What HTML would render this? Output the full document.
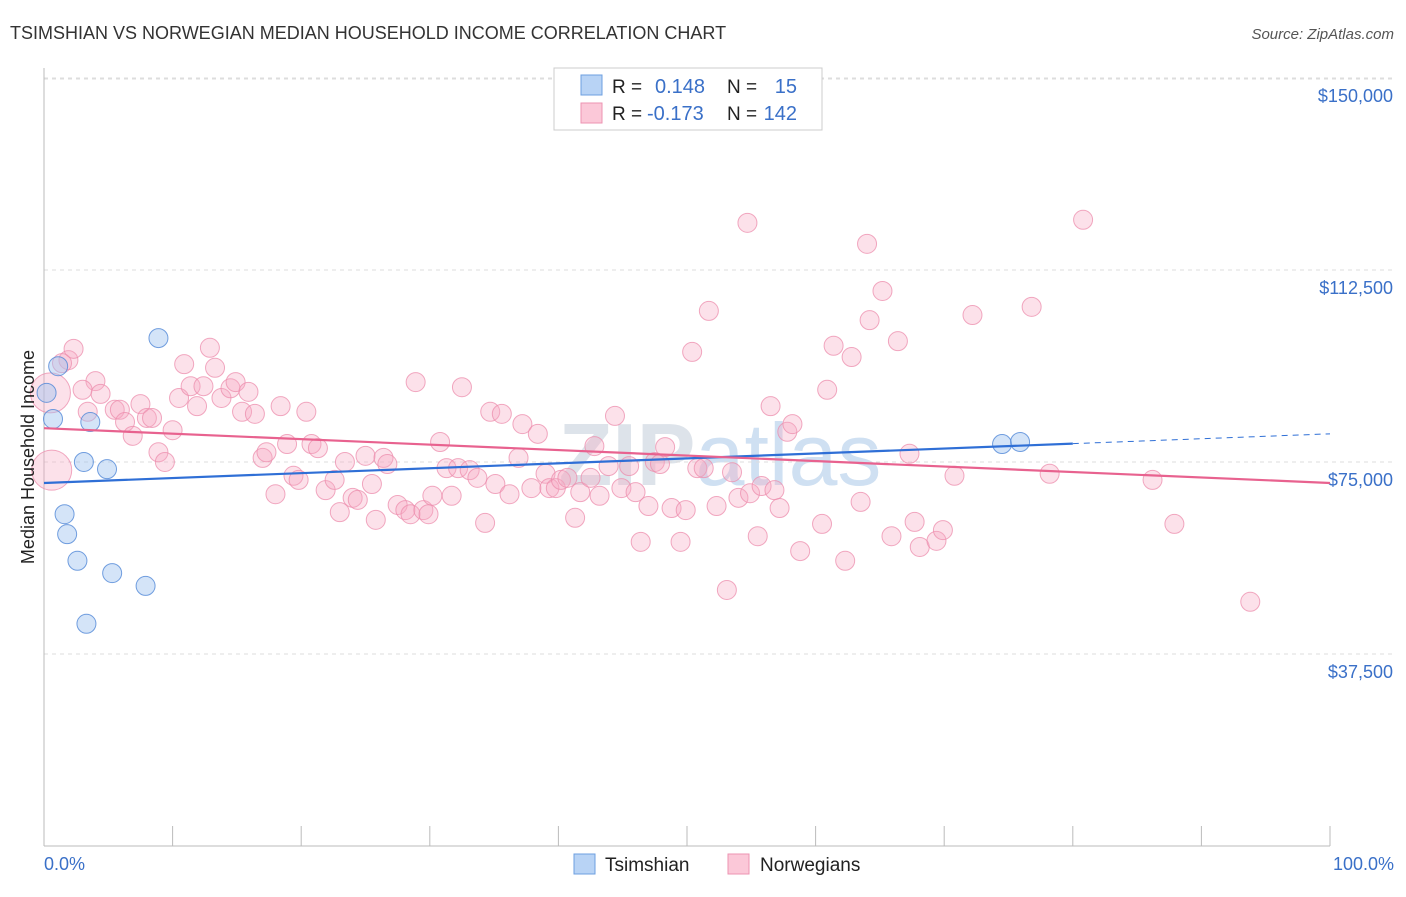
<!DOCTYPE html>
<html><head><meta charset="utf-8"><style>
body{margin:0;background:#fff;font-family:"Liberation Sans",sans-serif}
svg text{font-family:"Liberation Sans",sans-serif}
</style></head><body>
<svg id="chart" width="1406" height="892">
<text x="10" y="39" font-size="18" fill="#333">TSIMSHIAN VS NORWEGIAN MEDIAN HOUSEHOLD INCOME CORRELATION CHART</text>
<text x="1394" y="39" font-size="15" fill="#555" font-style="italic" text-anchor="end">Source: ZipAtlas.com</text>
<text x="720" y="485" font-size="88" fill="#dde3ea" text-anchor="middle" font-weight="bold">ZIP<tspan font-weight="normal" fill="#cfe0f2">atlas</tspan></text>
<g id="grid"></g><g id="axes"></g><g id="pts"></g><g id="trend"></g>
<text transform="translate(34,457) rotate(-90)" font-size="18" fill="#222" text-anchor="middle">Median Household Income</text>
<text x="44" y="870" font-size="18" fill="#3a70c8">0.0%</text>
<text x="1394" y="870" font-size="18" fill="#3a70c8" text-anchor="end">100.0%</text>
<g>
<rect x="554" y="68" width="268" height="62" fill="#fff" stroke="#ccc"/>
<rect x="581" y="75" width="21" height="20" fill="#b8d3f5" stroke="#6d9fe0"/>
<rect x="581" y="103" width="21" height="20" fill="#fbc8d8" stroke="#ec93b2"/>
<text x="612" y="93" font-size="19" fill="#222">R = </text><text x="655" y="93" font-size="20" fill="#3a70c8">0.148</text>
<text x="727" y="93" font-size="19" fill="#222">N = </text><text x="797" y="93" font-size="20" fill="#3a70c8" text-anchor="end">15</text>
<text x="612" y="120" font-size="19" fill="#222">R = </text><text x="647" y="120" font-size="20" fill="#3a70c8">-0.173</text>
<text x="727" y="120" font-size="19" fill="#222">N = </text><text x="797" y="120" font-size="20" fill="#3a70c8" text-anchor="end">142</text>
</g>
<g>
<rect x="574" y="854" width="21" height="20" fill="#b8d3f5" stroke="#6d9fe0"/>
<text x="605" y="871" font-size="19" fill="#222">Tsimshian</text>
<text x="760" y="871" font-size="19" fill="#222">Norwegians</text>
<rect x="728" y="854" width="21" height="20" fill="#fbc8d8" stroke="#ec93b2"/>
</g>
</svg>
<script>
const yTicks=[37500,75000,112500,150000];
const yTickLabels=["$37,500","$75,000","$112,500","$150,000"];
const xTicks=[0,10,20,30,40,50,60,70,80,90,100];
const blueX=[0.2,0.7,1.1,3.6,8.9,3.1,4.9,1.6,1.8,2.6,5.3,7.9,3.3,74.5,75.9];
const blueY=[88.5,83.4,93.7,82.8,99.2,75.0,73.6,64.8,60.9,55.7,53.3,50.8,43.4,78.5,78.9];
const pinkX=[0.5,0.6,1.9,2.3,1.4,4.0,3.0,3.4,4.4,5.5,5.9,6.3,6.9,7.5,8.0,8.4,8.9,9.4,10.0,10.5,10.9,11.4,11.9,12.4,12.9,13.3,13.8,14.5,14.9,15.4,15.9,16.4,17.0,17.3,18.0,18.4,18.9,19.4,19.8,20.4,20.8,21.3,21.9,22.6,23.0,23.4,24.0,24.4,25.0,25.5,25.8,26.4,26.7,27.5,28.1,28.5,28.9,29.5,29.9,30.2,30.8,31.3,31.7,32.2,32.5,33.1,33.7,34.3,34.7,35.1,35.6,36.2,36.9,37.2,37.9,38.4,39.0,39.3,39.8,40.2,40.7,41.3,41.7,42.5,42.8,43.2,43.9,44.4,44.9,45.5,46.0,46.4,47.0,47.5,47.9,48.3,48.8,49.5,49.9,50.4,50.8,51.3,51.7,52.3,53.1,53.5,54.0,54.7,54.9,55.5,55.8,56.5,56.8,57.2,57.8,58.2,58.8,60.5,60.9,61.4,62.3,62.8,63.5,64.0,64.2,65.2,65.9,66.4,67.3,67.7,68.1,69.4,69.9,70.8,72.2,76.8,78.2,80.8,86.2,87.9,93.8];
const pinkY=[88.5,73.4,94.9,97.1,94.3,90.8,89.1,84.8,88.3,85.2,85.2,82.8,80.1,86.3,83.6,83.6,76.9,75.0,81.2,87.5,94.1,89.8,85.9,89.8,97.3,93.4,87.5,89.4,90.6,84.8,88.7,84.4,75.8,76.9,68.7,85.9,78.5,72.3,71.5,84.8,78.5,77.7,69.5,71.5,65.2,75.0,68.0,67.6,76.2,70.7,63.7,75.8,74.6,66.6,65.6,64.8,90.6,65.6,64.8,68.4,78.9,73.8,68.4,73.8,89.6,73.4,71.9,63.1,84.8,70.7,84.4,68.7,75.8,82.4,69.9,80.5,72.7,69.9,69.9,71.5,71.9,64.1,69.1,71.9,78.1,68.4,74.2,84.0,69.9,74.2,69.1,59.4,66.4,75.0,74.6,77.9,66.0,59.4,65.6,96.5,73.8,73.8,104.5,66.4,50.0,73.0,68.0,121.7,68.9,60.5,70.3,85.9,69.5,66.0,80.9,82.4,57.6,62.9,89.1,97.7,55.7,95.5,67.2,117.6,102.7,108.4,60.5,98.6,76.6,63.3,58.4,59.6,61.7,72.3,103.7,105.3,72.7,122.3,71.5,62.9,47.7];
const blueTrend=[70.9,80.5]; // income (k) at 0% and 100%
const pinkTrend=[81.6,70.9];
const X=v=>44+v*12.86, Y=v=>846-v*1000/195.3;
const NS="http://www.w3.org/2000/svg";
function mk(p,t,a){const e=document.createElementNS(NS,t);for(const k in a)e.setAttribute(k,a[k]);document.getElementById(p).appendChild(e);return e;}
yTicks.forEach((t,i)=>{
 const l=mk('grid','line',{x1:44,x2:1394,y1:Y(t/1000),y2:Y(t/1000),stroke:'#ddd','stroke-dasharray':'4,4'});
 
 
 const tx=mk('grid','text',{x:1393,y:Y(t/1000)+24,'font-size':18,fill:'#3a70c8','text-anchor':'end'});
 tx.textContent=yTickLabels[i];
 
 
});
const tl=mk('grid','line',{x1:44,x2:1394,y1:79,y2:79,stroke:'#ddd','stroke-dasharray':'4,4'});


const ya=mk('axes','line',{x1:44,x2:44,y1:68,y2:846,stroke:'#bbb'});


const xa=mk('axes','line',{x1:44,x2:1330,y1:846,y2:846,stroke:'#bbb'});


xTicks.forEach(t=>{const l=mk('axes','line',{x1:X(t),x2:X(t),y1:826,y2:846,stroke:'#bbb'});
 
 });
pinkX.forEach((x,i)=>{const big=i<2;const c=mk('pts','circle',{cx:X(x),cy:Y(pinkY[i]),r:big?20:9.5,fill:'rgba(247,170,195,0.35)',stroke:'rgba(236,140,172,0.75)','stroke-width':1});
 
 });
blueX.forEach((x,i)=>{const c=mk('pts','circle',{cx:X(x),cy:Y(blueY[i]),r:9.5,fill:'rgba(160,195,240,0.45)',stroke:'rgba(80,135,215,0.8)','stroke-width':1});
 
 });
const bAt=p=>blueTrend[0]+(blueTrend[1]-blueTrend[0])*p/100;
const b1=mk('trend','line',{x1:X(0),y1:Y(bAt(0)),x2:X(80),y2:Y(bAt(80)),stroke:'#2f6fd6','stroke-width':2.2});


const b2=mk('trend','line',{x1:X(80),y1:Y(bAt(80)),x2:X(100),y2:Y(bAt(100)),stroke:'#2f6fd6','stroke-width':1,'stroke-dasharray':'6,5'});


const p1=mk('trend','line',{x1:X(0),y1:Y(pinkTrend[0]),x2:X(100),y2:Y(pinkTrend[1]),stroke:'#e8628f','stroke-width':2.2});


</script>
</body></html>
